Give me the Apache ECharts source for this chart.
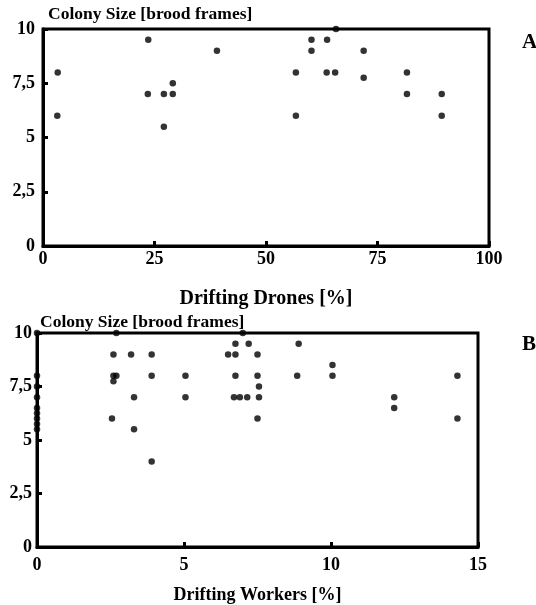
<!DOCTYPE html>
<html>
<head>
<meta charset="utf-8">
<script src="https://cdn.jsdelivr.net/npm/echarts@6/dist/echarts.min.js"></script>
<style>
html,body{margin:0;padding:0;background:#fff;}
#chart{width:536px;height:605px;}
</style>
</head>
<body>
<div id="chart"></div>
<script>
// Panel A: drifting drones vs colony size
const dronesX = [3.3, 3.2, 23.6, 23.5, 27.1, 29.1, 29.1, 27.1, 39, 65.7, 60.2, 63.7, 60.2, 71.9, 56.7, 63.6, 65.5, 71.9, 81.6, 81.6, 89.4, 89.4, 56.7];
const dronesY = [8, 6, 9.5, 7, 7, 7.5, 7, 5.5, 9, 10, 9.5, 9.5, 9, 9, 8, 8, 8, 7.75, 8, 7, 7, 6, 6];
// Panel B: drifting workers vs colony size
const workersX = [0, 0, 0, 0, 0, 0, 0, 0, 0,
  2.7, 2.6, 3.2, 3.9, 2.6, 2.7, 2.6, 3.3, 3.9, 5.05, 5.05, 2.55, 3.3, 3.9,
  7.0, 6.75, 7.2, 6.5, 6.75, 7.5, 6.75, 7.5, 7.55, 6.7, 6.9, 7.15, 7.55, 7.5,
  8.9, 8.85, 10.05, 10.05, 12.15, 12.15, 14.3, 14.3];
const workersY = [10, 8, 7.5, 7, 6.5, 6.25, 6, 5.75, 5.5,
  10, 9, 9, 9, 8, 8, 7.75, 7, 8, 8, 7, 6, 5.5, 4,
  10, 9.5, 9.5, 9, 9, 9, 8, 8, 7.5, 7, 7, 7, 7, 6,
  9.5, 8, 8.5, 8, 7, 6.5, 8, 6];
const yTicks = { min: 0, max: 10, interval: 2.5 };
const dronesTicks = { min: 0, max: 100, interval: 25 };
const workersTicks = { min: 0, max: 15, interval: 5 };
const yTitle = 'Colony Size [brood frames]';
const xTitleA = 'Drifting Drones [%]';
const xTitleB = 'Drifting Workers [%]';

const FONT = "'Liberation Serif','Times New Roman',serif";
const pairs = (xs, ys) => xs.map((x, i) => [x, ys[i]]);
const fmtComma = v => String(v).replace('.', ',');

const axisLine = { show: true, lineStyle: { color: '#000', width: 3 } };
const axisTick = { show: true, inside: true, length: 5, lineStyle: { color: '#000', width: 3 } };
const label = { color: '#000', fontFamily: FONT, fontWeight: 'bold', fontSize: 18 };

function yAxis(gridIndex, nameGap, padLeft, labelMargin) {
  return {
    type: 'value', gridIndex, min: yTicks.min, max: yTicks.max, interval: yTicks.interval,
    name: yTitle, nameLocation: 'end', nameGap: nameGap,
    nameTextStyle: { color: '#000', fontFamily: FONT, fontWeight: 'bold', fontSize: 17.5, align: 'left', padding: [0, 0, 0, padLeft] },
    axisLine, axisTick, splitLine: { show: false },
    axisLabel: Object.assign({ formatter: fmtComma, margin: labelMargin }, label)
  };
}
function xAxis(gridIndex, t, name, nameSize, nameGap, labelMargin) {
  return {
    type: 'value', gridIndex, min: t.min, max: t.max, interval: t.interval,
    name, nameLocation: 'middle', nameGap,
    nameTextStyle: { color: '#000', fontFamily: FONT, fontWeight: 'bold', fontSize: nameSize },
    axisLine, axisTick, splitLine: { show: false },
    axisLabel: Object.assign({ margin: labelMargin }, label)
  };
}

const chart = echarts.init(document.getElementById('chart'), null, { renderer: 'canvas' });
chart.setOption({
  backgroundColor: '#fff',
  animation: false,
  title: [
    { text: 'A', left: 517, top: 27, textStyle: { fontFamily: FONT, fontWeight: 'bold', fontSize: 21, color: '#000' } },
    { text: 'B', left: 517, top: 329, textStyle: { fontFamily: FONT, fontWeight: 'bold', fontSize: 21, color: '#000' } }
  ],
  grid: [
    { left: 43, right: 47, top: 29, bottom: 359, outerBoundsMode: 'none', containLabel: false, show: true, borderColor: '#000', borderWidth: 3, backgroundColor: 'transparent' },
    { left: 37, right: 58, top: 333, bottom: 58, outerBoundsMode: 'none', containLabel: false, show: true, borderColor: '#000', borderWidth: 3, backgroundColor: 'transparent' }
  ],
  xAxis: [
    xAxis(0, dronesTicks, xTitleA, 20, 43, 4),
    xAxis(1, workersTicks, xTitleB, 18, 39, 9)
  ],
  yAxis: [yAxis(0, 6, 5, 8), yAxis(1, 2, 3, 5)],
  series: [
    { type: 'scatter', xAxisIndex: 0, yAxisIndex: 0, data: pairs(dronesX, dronesY), symbol: 'circle', symbolSize: 6.5, clip: false, itemStyle: { color: '#000' } },
    { type: 'scatter', xAxisIndex: 1, yAxisIndex: 1, data: pairs(workersX, workersY), symbol: 'circle', symbolSize: 6.5, clip: false, itemStyle: { color: '#000' } }
  ]
});
</script>
</body>
</html>
